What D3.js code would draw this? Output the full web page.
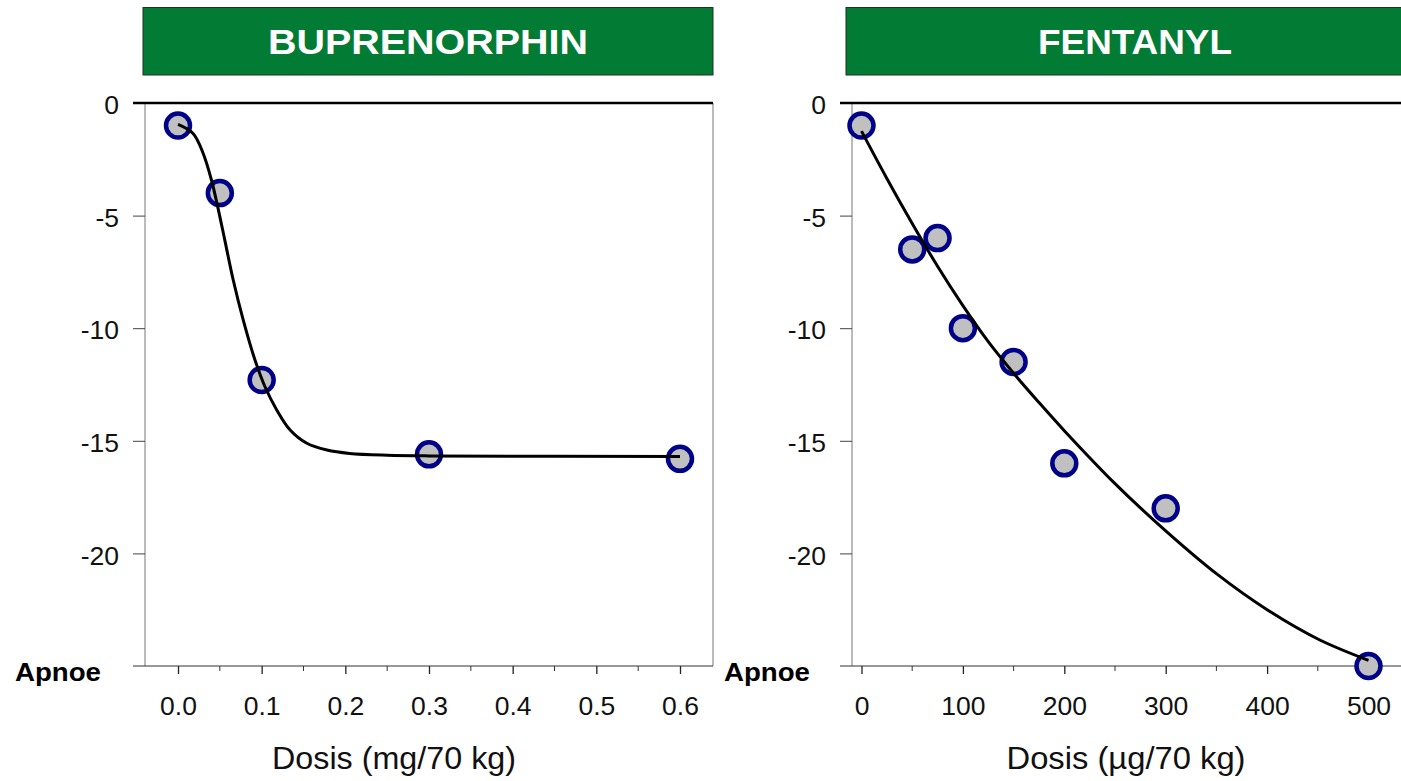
<!DOCTYPE html>
<html>
<head>
<meta charset="utf-8">
<script src="https://cdn.jsdelivr.net/npm/d3@7"></script>
<style>
  body { margin: 0; background: #fff; }
  text { font-family: "Liberation Sans", Arial, sans-serif; }
</style>
</head>
<body>
<div id="chart"></div>
<script>
// measured points
const bupDose = [0, 0.05, 0.1, 0.3, 0.6];
const bupResp = [-1, -4, -12.3, -15.6, -15.8];
const fenDose = [0, 50, 75, 100, 150, 200, 300, 500];
const fenResp = [-1, -6.5, -6, -10, -11.5, -16, -18, -25];

// fitted curves
const bupFitDose = [0, 0.018, 0.03, 0.04, 0.048, 0.056, 0.066, 0.078, 0.092, 0.104, 0.118, 0.134, 0.154, 0.178, 0.205, 0.25, 0.3, 0.6];
const bupFitResp = [-0.95, -1.35, -2.23, -3.42, -4.7, -6.1, -7.86, -9.64, -11.41, -12.6, -13.63, -14.52, -15.11, -15.41, -15.56, -15.64, -15.67, -15.7];
const fenFitDose = [0, 25, 50, 75, 100, 125, 150, 175, 200, 250, 300, 350, 400, 450, 500];
const fenFitResp = [-1.25, -3.35, -5.35, -7.25, -9.0, -10.6, -12.0, -13.3, -14.55, -16.9, -19.0, -20.9, -22.5, -23.8, -24.75];

// tick labels
const yTicks = [0, -5, -10, -15, -20];
const bupMajor = [0, 0.1, 0.2, 0.3, 0.4, 0.5, 0.6];
const bupMinor = [0.05, 0.15, 0.25, 0.35, 0.45, 0.55];
const fenMajor = [0, 100, 200, 300, 400, 500];
const fenMinor = [50, 150, 250, 350, 450];

const W = 1401, H = 781;
const svg = d3.select("#chart").append("svg")
  .attr("width", W)
  .attr("height", H);

// shared y scale (0 at top, Apnoe = -25 at bottom)
const y = d3.scaleLinear().domain([0, -25]).range([103, 666]);

function drawPanel(p) {
  const x = d3.scaleLinear().domain(p.xDomain).range(p.xRange);
  const g = svg.append("g");

  // green header
  g.append("rect")
    .attr("x", p.head[0]).attr("y", 7.5)
    .attr("width", p.head[1] - p.head[0]).attr("height", 67.5)
    .attr("fill", "#027b35")
    .attr("stroke", "#1f3322")
    .attr("stroke-width", 1);
  g.append("text")
    .attr("x", p.headText).attr("y", 54)
    .attr("text-anchor", "middle")
    .attr("fill", "#fff")
    .attr("font-weight", "bold")
    .attr("font-size", 35)
    .attr("textLength", p.headLen)
    .attr("lengthAdjust", "spacingAndGlyphs")
    .text(p.title);

  // y axis
  const yAxis = g.append("g")
    .attr("transform", `translate(${p.axisX},0)`)
    .call(d3.axisLeft(y).tickValues(yTicks).tickSize(12).tickSizeOuter(0).tickPadding(14)
      .tickFormat((d) => String(d)));
  yAxis.select(".domain").attr("stroke", "#777").attr("d", `M0,${y(0)}V${y(-25)}`);
  yAxis.selectAll(".tick line").attr("stroke", "#444");
  yAxis.selectAll("text").attr("font-size", 26.5).attr("fill", "#111").attr("dy", "0.4em");

  // right border (left panel only)
  if (p.border) {
    g.append("line")
      .attr("x1", p.lineEnd).attr("x2", p.lineEnd)
      .attr("y1", y(0)).attr("y2", y(-25))
      .attr("stroke", "#777").attr("stroke-width", 1);
  }

  // x axis (bottom = Apnoe)
  const xAxis = g.append("g")
    .attr("transform", `translate(0,${y(-25)})`)
    .call(d3.axisBottom(x).tickValues(p.major).tickSize(8).tickPadding(22).tickFormat(p.fmt));
  xAxis.select(".domain").remove();
  xAxis.selectAll(".tick line").attr("stroke", "#222").attr("stroke-width", 1.3);
  xAxis.selectAll("text").attr("font-size", 26.5).attr("fill", "#111");
  g.append("g")
    .attr("transform", `translate(0,${y(-25)})`)
    .selectAll("line")
    .data(p.minor)
    .join("line")
    .attr("x1", (d) => x(d)).attr("x2", (d) => x(d))
    .attr("y1", 0).attr("y2", 5)
    .attr("stroke", "#333");
  g.append("line")
    .attr("x1", p.axisX - 12).attr("x2", p.lineEnd)
    .attr("y1", y(-25)).attr("y2", y(-25))
    .attr("stroke", "#333").attr("stroke-width", 1.2);

  // zero line
  g.append("line")
    .attr("x1", p.axisX - 12).attr("x2", p.lineEnd)
    .attr("y1", y(0)).attr("y2", y(0))
    .attr("stroke", "#000").attr("stroke-width", 2.5);

  // Apnoe label
  g.append("text")
    .attr("x", p.apnoeX).attr("y", y(-25) + 15)
    .attr("font-weight", "bold")
    .attr("font-size", 26)
    .attr("textLength", 86)
    .attr("lengthAdjust", "spacingAndGlyphs")
    .attr("fill", "#000")
    .text("Apnoe");

  // axis title
  g.append("text")
    .attr("x", p.titleX).attr("y", 769)
    .attr("text-anchor", "middle")
    .attr("font-size", 31)
    .attr("textLength", p.titleLen)
    .attr("lengthAdjust", "spacingAndGlyphs")
    .attr("fill", "#111")
    .text(p.xTitle);

  // points
  g.append("g")
    .selectAll("circle")
    .data(p.dose.map((d, i) => [d, p.resp[i]]))
    .join("circle")
    .attr("cx", (d) => x(d[0]))
    .attr("cy", (d) => y(d[1]))
    .attr("r", 12)
    .attr("fill", "#c0c0c0")
    .attr("stroke", "#000088")
    .attr("stroke-width", 4.5);

  // fitted curve on top
  const line = d3.line()
    .x((d) => x(d[0]))
    .y((d) => y(d[1]))
    .curve(d3.curveCatmullRom.alpha(0.5));
  g.append("path")
    .datum(p.fitDose.map((d, i) => [d, p.fitResp[i]]))
    .attr("d", line)
    .attr("fill", "none")
    .attr("stroke", "#000")
    .attr("stroke-width", 3);
}

drawPanel({
  title: "BUPRENORPHIN", head: [143, 713], headText: 428, headLen: 320,
  xDomain: [0, 0.6], xRange: [178, 680],
  axisX: 145, lineEnd: 713, border: true,
  major: bupMajor, minor: bupMinor, fmt: d3.format(".1f"),
  apnoeX: 15, titleX: 394, titleLen: 244, xTitle: "Dosis (mg/70 kg)",
  dose: bupDose, resp: bupResp, fitDose: bupFitDose, fitResp: bupFitResp
});

drawPanel({
  title: "FENTANYL", head: [846, 1420], headText: 1135, headLen: 194,
  xDomain: [0, 500], xRange: [861.5, 1368.5],
  axisX: 852, lineEnd: 1401, border: false,
  major: fenMajor, minor: fenMinor, fmt: d3.format("d"),
  apnoeX: 724, titleX: 1126, titleLen: 239, xTitle: "Dosis (µg/70 kg)",
  dose: fenDose, resp: fenResp, fitDose: fenFitDose, fitResp: fenFitResp
});
</script>
</body>
</html>
